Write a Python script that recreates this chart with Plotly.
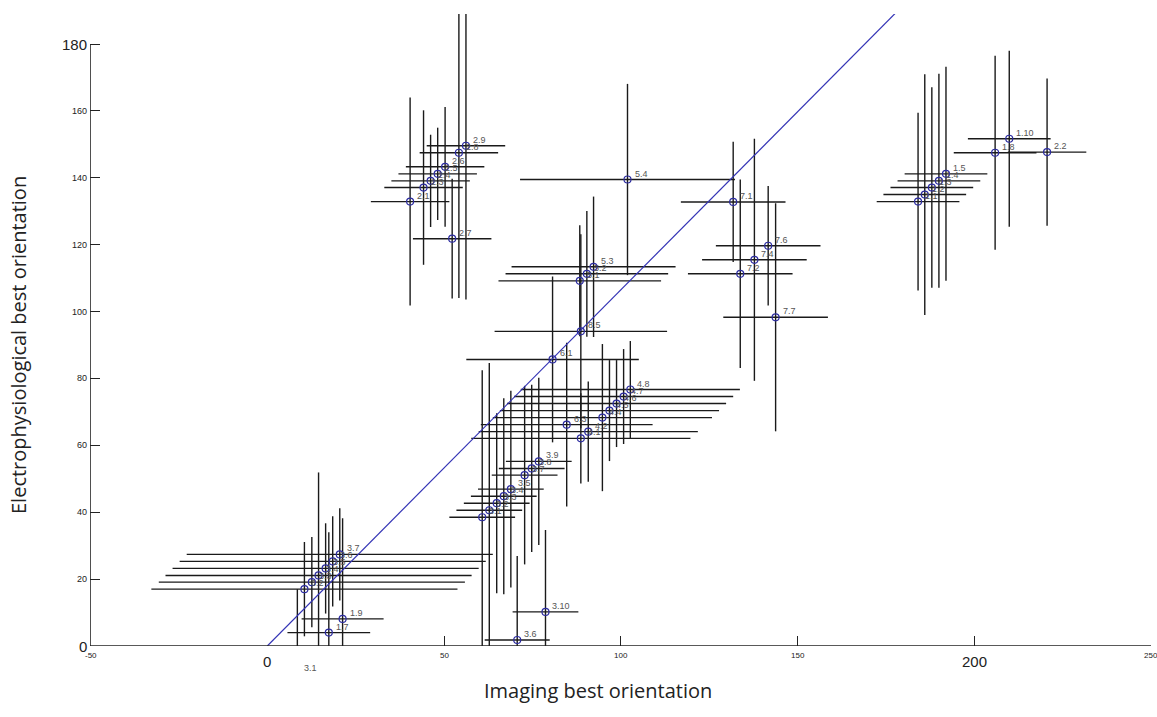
import plotly.graph_objects as go

# ---------------- data (degrees) ----------------
labels = ["3.1", "3.2", "3.3", "3.4", "3.5", "3.6", "3.7", "1.7", "1.9",
          "2.1", "2.3", "2.4", "2.5", "2.6", "2.7", "2.8", "2.9",
          "5.1", "5.2", "5.3", "5.4", "8.5", "6.1", "6.3",
          "4.1", "4.2", "4.4", "4.5", "4.6", "4.7", "4.8",
          "3.1", "3.2", "3.3", "3.4", "3.5", "3.7", "3.8", "3.9", "3.6", "3.10",
          "7.1", "7.2", "7.4", "7.6", "7.7",
          "1.1", "1.2", "1.3", "1.4", "1.5", "1.8", "1.10", "2.2"]
img_x = [8.5, 10.5, 12.6, 14.5, 16.5, 18.5, 20.5, 17.4, 21.3,
         40.4, 44.2, 46.2, 48.2, 50.3, 52.3, 54.2, 56.2,
         88.4, 90.4, 92.3, 101.9, 88.7, 80.7, 84.7,
         88.7, 90.8, 94.8, 96.8, 98.8, 100.8, 102.7,
         60.8, 62.8, 64.9, 66.9, 68.9, 72.8, 74.8, 76.8, 70.7, 78.7,
         131.8, 133.8, 137.8, 141.7, 143.8,
         184.1, 186.0, 188.0, 190.0, 192.0, 205.9, 209.9, 220.6]
elec_y = [-8.4, 17.0, 19.1, 21.1, 23.2, 25.3, 27.4, 4.0, 8.1,
          132.9, 137.1, 139.1, 141.2, 143.3, 121.8, 147.5, 149.6,
          109.2, 111.3, 113.4, 139.5, 94.1, 85.7, 66.2,
          62.1, 64.1, 68.3, 70.4, 72.5, 74.6, 76.7,
          38.5, 40.6, 42.7, 44.8, 46.9, 51.1, 53.1, 55.2, 1.8, 10.2,
          132.8, 111.3, 115.5, 119.7, 98.3,
          132.9, 135.0, 137.1, 139.1, 141.2, 147.5, 151.7, 147.7]
err_x = [11.6, 43.3, 43.3, 43.3, 43.3, 43.3, 43.3, 11.7, 11.6,
         11.1, 11.1, 11.1, 11.1, 11.1, 11.1, 11.1, 11.1,
         23.0, 23.0, 23.2, 30.4, 24.4, 24.4, 24.3,
         31.0, 31.0, 31.0, 31.0, 31.0, 31.0, 31.0,
         9.3, 9.3, 9.3, 9.3, 9.3, 9.3, 9.3, 9.3, 9.2, 9.3,
         14.8, 14.8, 14.8, 14.8, 14.8,
         11.7, 11.7, 11.7, 11.7, 11.7, 11.7, 11.7, 11.1]
err_y = [25.4, 14.1, 13.5, 30.8, 13.5, 13.5, 13.8, 30.0, 30.1,
         31.1, 23.1, 13.8, 13.8, 17.9, 17.9, 43.4, 46.0,
         16.6, 18.8, 21.0, 28.6, 29.0, 24.8, 24.5,
         13.5, 15.0, 22.0, 15.1, 13.0, 14.2, 14.5,
         44.0, 44.0, 26.9, 29.3, 29.4, 26.7, 25.0, 25.0, 25.1, 24.5,
         18.0, 28.2, 36.2, 17.9, 34.1,
         26.6, 36.0, 30.0, 32.0, 32.0, 29.0, 26.3, 22.0]

fit_x = [0, 200]
fit_y = [0, 213]

x_ticks = [-50, 0, 50, 100, 150, 200, 250]
x_tick_sizes = [8, 15, 8, 8, 8, 15, 8]
x_tick_marks = [-50, 50, 100, 150, 200, 250]
y_ticks = [0, 20, 40, 60, 80, 100, 120, 140, 160, 180]
y_tick_sizes = [15, 9, 9, 9, 9, 9, 9, 9, 9, 15]
y_tick_marks = [20, 40, 60, 80, 100, 120, 140, 160, 180]

X_MIN, X_MAX = -50.16, 250.0
Y_MIN, Y_MAX = 0.0, 189.0
L, R, T, B = 90, 6, 14, 71
W, H = 1157, 717
PW, PH = W - L - R, H - T - B
PX_PER_Y = PH / (Y_MAX - Y_MIN)

fig = go.Figure()

fig.add_trace(go.Scatter(
    x=img_x, y=elec_y, mode="markers",
    marker=dict(symbol="circle-open", size=7, color="#2c2ca0", line=dict(width=1.2)),
    error_x=dict(type="data", array=err_x, visible=True, width=0, thickness=1.4, color="#1a1a1a"),
    error_y=dict(type="data", array=err_y, visible=True, width=0, thickness=1.4, color="#1a1a1a"),
    showlegend=False, hoverinfo="skip",
))

fig.add_trace(go.Scatter(
    x=fit_x, y=fit_y, mode="lines",
    line=dict(color="#3333b5", width=1.2),
    showlegend=False, hoverinfo="skip",
))

# point labels (annotations so the one below the axis still shows)
for lab, px_, py_ in zip(labels, img_x, elec_y):
    ya = max(py_, Y_MIN)
    fig.add_annotation(x=px_, y=ya, xref="x", yref="y", text=lab, showarrow=False,
                       xanchor="left", yanchor="middle", xshift=5,
                       yshift=6 + (py_ - ya) * PX_PER_Y,
                       font=dict(family="Liberation Sans, Arial, sans-serif", size=9, color="#555555"))

# axis lines
fig.add_shape(type="line", xref="x", yref="y", x0=X_MIN, x1=X_MAX, y0=0, y1=0,
              line=dict(color="#222222", width=1.6))
fig.add_shape(type="line", xref="x", yref="y", x0=X_MIN, x1=X_MIN, y0=0, y1=180,
              line=dict(color="#222222", width=1.6))

# tick labels
for v, s in zip(x_ticks, x_tick_sizes):
    fig.add_annotation(x=v, y=0, xref="x", yref="y", text=str(v), showarrow=False,
                       yanchor="top", xanchor="center", yshift=-3 if s < 10 else -5,
                       font=dict(family="Liberation Sans Narrow, Liberation Sans, sans-serif",
                                 size=s, color="#222222"))
for v, s in zip(y_ticks, y_tick_sizes):
    fig.add_annotation(x=X_MIN, y=v, xref="x", yref="y", text=str(v), showarrow=False,
                       xanchor="right", yanchor="middle", xshift=-1,
                       font=dict(family="Liberation Sans Narrow, Liberation Sans, sans-serif",
                                 size=s, color="#222222"))

fig.add_annotation(x=(598 - L) / PW, y=(H - B - 690) / PH, xref="paper", yref="paper",
                   text="Imaging best orientation", showarrow=False,
                   xanchor="center", yanchor="middle",
                   font=dict(family="Open Sans, sans-serif", size=20, color="#222222"))
fig.add_annotation(x=(18 - L) / PW, y=(H - B - 345) / PH, xref="paper", yref="paper",
                   text="Electrophysiological best orientation", textangle=-90, showarrow=False,
                   xanchor="center", yanchor="middle",
                   font=dict(family="Open Sans, sans-serif", size=20, color="#222222"))

fig.update_layout(
    width=W, height=H,
    margin=dict(l=L, r=R, t=T, b=B),
    paper_bgcolor="white", plot_bgcolor="white",
    xaxis=dict(range=[X_MIN, X_MAX], showgrid=False, zeroline=False, showline=False,
               ticks="inside", ticklen=10, tickcolor="#222222", tickwidth=1.2,
               tickvals=x_tick_marks, showticklabels=False),
    yaxis=dict(range=[Y_MIN, Y_MAX], showgrid=False, zeroline=False, showline=False,
               ticks="inside", ticklen=10, tickcolor="#222222", tickwidth=1.2,
               tickvals=y_tick_marks, showticklabels=False),
)

fig.write_html("out.html")
